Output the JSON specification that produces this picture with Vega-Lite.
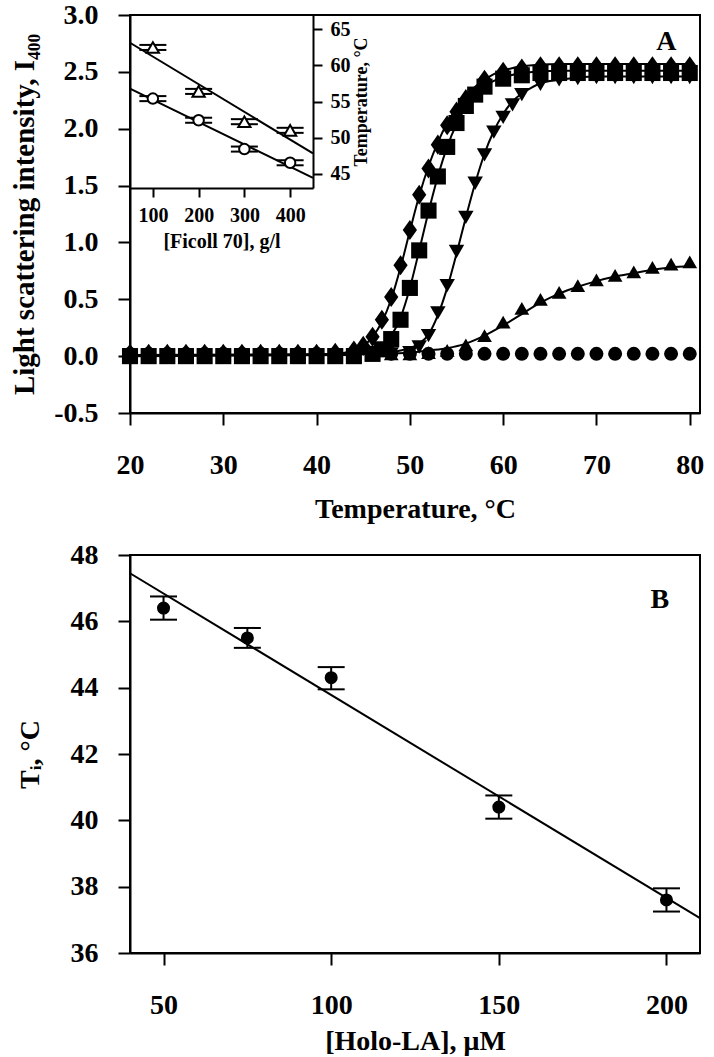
{
  "$schema": "https://vega.github.io/schema/vega-lite/v6.json",
  "padding": {"left": 9, "top": 0, "right": 6, "bottom": 4},
  "bounds": "flush",
  "spacing": 142,
  "config": {
    "font": "Liberation Serif",
    "view": {"stroke": "black", "strokeWidth": 2},
    "axis": {
      "domainColor": "black", "domainWidth": 2, "tickColor": "black", "tickWidth": 2, "tickSize": 12,
      "labelFont": "Liberation Serif", "labelFontWeight": "bold", "labelFontSize": 28, "labelColor": "black",
      "titleFont": "Liberation Serif", "titleFontWeight": "bold", "titleFontSize": 28, "titleColor": "black",
      "grid": false, "labelFlush": false, "labelOverlap": false, "labelPadding": 20
    },
    "axisX": {"labelPadding": 26}
  },
  "datasets": {
    "pts": [
      {"s":"c","t":20,"v":0.02},{"s":"c","t":22,"v":0.02},{"s":"c","t":24,"v":0.02},{"s":"c","t":26,"v":0.02},{"s":"c","t":28,"v":0.02},{"s":"c","t":30,"v":0.02},{"s":"c","t":32,"v":0.02},{"s":"c","t":34,"v":0.02},{"s":"c","t":36,"v":0.02},{"s":"c","t":38,"v":0.02},{"s":"c","t":40,"v":0.02},{"s":"c","t":42,"v":0.02},{"s":"c","t":44,"v":0.02},{"s":"c","t":46,"v":0.02},{"s":"c","t":48,"v":0.02},{"s":"c","t":50,"v":0.02},{"s":"c","t":52,"v":0.02},{"s":"c","t":54,"v":0.02},{"s":"c","t":56,"v":0.02},{"s":"c","t":58,"v":0.02},{"s":"c","t":60,"v":0.02},{"s":"c","t":62,"v":0.02},{"s":"c","t":64,"v":0.02},{"s":"c","t":66,"v":0.02},{"s":"c","t":68,"v":0.02},{"s":"c","t":70,"v":0.02},{"s":"c","t":72,"v":0.02},{"s":"c","t":74,"v":0.02},{"s":"c","t":76,"v":0.02},{"s":"c","t":78,"v":0.02},{"s":"c","t":80,"v":0.02},
      {"s":"u","t":20,"v":0.02},{"s":"u","t":22,"v":0.02},{"s":"u","t":24,"v":0.02},{"s":"u","t":26,"v":0.02},{"s":"u","t":28,"v":0.02},{"s":"u","t":30,"v":0.02},{"s":"u","t":32,"v":0.02},{"s":"u","t":34,"v":0.02},{"s":"u","t":36,"v":0.02},{"s":"u","t":38,"v":0.02},{"s":"u","t":40,"v":0.02},{"s":"u","t":42,"v":0.02},{"s":"u","t":44,"v":0.02},{"s":"u","t":46,"v":0.02},{"s":"u","t":48,"v":0.02},{"s":"u","t":50,"v":0.02},{"s":"u","t":52,"v":0.03},{"s":"u","t":54,"v":0.05},{"s":"u","t":56,"v":0.1},{"s":"u","t":58,"v":0.18},{"s":"u","t":60,"v":0.3},{"s":"u","t":62,"v":0.42},{"s":"u","t":64,"v":0.5},{"s":"u","t":66,"v":0.56},{"s":"u","t":68,"v":0.62},{"s":"u","t":70,"v":0.67},{"s":"u","t":72,"v":0.71},{"s":"u","t":74,"v":0.74},{"s":"u","t":76,"v":0.78},{"s":"u","t":78,"v":0.81},{"s":"u","t":80,"v":0.83},
      {"s":"n","t":20,"v":0.01},{"s":"n","t":22,"v":0.01},{"s":"n","t":24,"v":0.01},{"s":"n","t":26,"v":0.01},{"s":"n","t":28,"v":0.01},{"s":"n","t":30,"v":0.01},{"s":"n","t":32,"v":0.01},{"s":"n","t":34,"v":0.01},{"s":"n","t":36,"v":0.01},{"s":"n","t":38,"v":0.01},{"s":"n","t":40,"v":0.01},{"s":"n","t":42,"v":0.01},{"s":"n","t":44,"v":0.01},{"s":"n","t":46,"v":0.01},{"s":"n","t":48,"v":0.02},{"s":"n","t":50,"v":0.03},{"s":"n","t":51,"v":0.08},{"s":"n","t":52,"v":0.18},{"s":"n","t":53,"v":0.38},{"s":"n","t":54,"v":0.62},{"s":"n","t":55,"v":0.92},{"s":"n","t":56,"v":1.22},{"s":"n","t":57,"v":1.52},{"s":"n","t":58,"v":1.77},{"s":"n","t":59,"v":1.97},{"s":"n","t":60,"v":2.1},{"s":"n","t":61,"v":2.21},{"s":"n","t":62,"v":2.3},{"s":"n","t":64,"v":2.39},{"s":"n","t":66,"v":2.43},{"s":"n","t":68,"v":2.44},{"s":"n","t":70,"v":2.45},{"s":"n","t":72,"v":2.45},{"s":"n","t":74,"v":2.45},{"s":"n","t":76,"v":2.45},{"s":"n","t":78,"v":2.45},{"s":"n","t":80,"v":2.45},
      {"s":"q","t":20,"v":0.0},{"s":"q","t":22,"v":0.0},{"s":"q","t":24,"v":0.0},{"s":"q","t":26,"v":0.0},{"s":"q","t":28,"v":0.0},{"s":"q","t":30,"v":0.0},{"s":"q","t":32,"v":0.0},{"s":"q","t":34,"v":0.0},{"s":"q","t":36,"v":0.0},{"s":"q","t":38,"v":0.0},{"s":"q","t":40,"v":0.0},{"s":"q","t":42,"v":0.0},{"s":"q","t":44,"v":0.0},{"s":"q","t":46,"v":0.02},{"s":"q","t":47,"v":0.06},{"s":"q","t":48,"v":0.15},{"s":"q","t":49,"v":0.32},{"s":"q","t":50,"v":0.6},{"s":"q","t":51,"v":0.93},{"s":"q","t":52,"v":1.28},{"s":"q","t":53,"v":1.58},{"s":"q","t":54,"v":1.84},{"s":"q","t":55,"v":2.05},{"s":"q","t":56,"v":2.2},{"s":"q","t":57,"v":2.3},{"s":"q","t":58,"v":2.37},{"s":"q","t":60,"v":2.44},{"s":"q","t":62,"v":2.47},{"s":"q","t":64,"v":2.49},{"s":"q","t":66,"v":2.49},{"s":"q","t":68,"v":2.49},{"s":"q","t":70,"v":2.49},{"s":"q","t":72,"v":2.49},{"s":"q","t":74,"v":2.49},{"s":"q","t":76,"v":2.49},{"s":"q","t":78,"v":2.49},{"s":"q","t":80,"v":2.49},
      {"s":"d","t":20,"v":0.02},{"s":"d","t":22,"v":0.02},{"s":"d","t":24,"v":0.02},{"s":"d","t":26,"v":0.02},{"s":"d","t":28,"v":0.02},{"s":"d","t":30,"v":0.02},{"s":"d","t":32,"v":0.02},{"s":"d","t":34,"v":0.02},{"s":"d","t":36,"v":0.02},{"s":"d","t":38,"v":0.02},{"s":"d","t":40,"v":0.02},{"s":"d","t":42,"v":0.03},{"s":"d","t":44,"v":0.05},{"s":"d","t":45,"v":0.09},{"s":"d","t":46,"v":0.17},{"s":"d","t":47,"v":0.32},{"s":"d","t":48,"v":0.52},{"s":"d","t":49,"v":0.8},{"s":"d","t":50,"v":1.11},{"s":"d","t":51,"v":1.42},{"s":"d","t":52,"v":1.65},{"s":"d","t":53,"v":1.86},{"s":"d","t":54,"v":2.03},{"s":"d","t":55,"v":2.15},{"s":"d","t":56,"v":2.26},{"s":"d","t":58,"v":2.43},{"s":"d","t":60,"v":2.5},{"s":"d","t":62,"v":2.53},{"s":"d","t":64,"v":2.55},{"s":"d","t":66,"v":2.55},{"s":"d","t":68,"v":2.55},{"s":"d","t":70,"v":2.55},{"s":"d","t":72,"v":2.55},{"s":"d","t":74,"v":2.55},{"s":"d","t":76,"v":2.55},{"s":"d","t":78,"v":2.55},{"s":"d","t":80,"v":2.55}
    ],
    "crv": [
      {"s":"d","t":20,"v":0.01},{"s":"d","t":40,"v":0.01},{"s":"d","t":42,"v":0.02},{"s":"d","t":43,"v":0.03},{"s":"d","t":44,"v":0.05},{"s":"d","t":45,"v":0.09},{"s":"d","t":46,"v":0.17},{"s":"d","t":47,"v":0.3},{"s":"d","t":48,"v":0.5},{"s":"d","t":49,"v":0.78},{"s":"d","t":50,"v":1.1},{"s":"d","t":51,"v":1.41},{"s":"d","t":52,"v":1.67},{"s":"d","t":53,"v":1.88},{"s":"d","t":54,"v":2.05},{"s":"d","t":55,"v":2.18},{"s":"d","t":56,"v":2.29},{"s":"d","t":57,"v":2.37},{"s":"d","t":58,"v":2.43},{"s":"d","t":59,"v":2.48},{"s":"d","t":60,"v":2.51},{"s":"d","t":62,"v":2.55},{"s":"d","t":66,"v":2.57},{"s":"d","t":80,"v":2.57},
      {"s":"q","t":20,"v":0.0},{"s":"q","t":44,"v":0.01},{"s":"q","t":45,"v":0.03},{"s":"q","t":46,"v":0.06},{"s":"q","t":47,"v":0.1},{"s":"q","t":48,"v":0.18},{"s":"q","t":49,"v":0.34},{"s":"q","t":50,"v":0.6},{"s":"q","t":51,"v":0.93},{"s":"q","t":52,"v":1.27},{"s":"q","t":53,"v":1.58},{"s":"q","t":54,"v":1.84},{"s":"q","t":55,"v":2.04},{"s":"q","t":56,"v":2.19},{"s":"q","t":57,"v":2.3},{"s":"q","t":58,"v":2.37},{"s":"q","t":59,"v":2.42},{"s":"q","t":60,"v":2.45},{"s":"q","t":62,"v":2.49},{"s":"q","t":66,"v":2.51},{"s":"q","t":80,"v":2.51},
      {"s":"n","t":20,"v":0.01},{"s":"n","t":46,"v":0.02},{"s":"n","t":48,"v":0.03},{"s":"n","t":49,"v":0.05},{"s":"n","t":50,"v":0.07},{"s":"n","t":51,"v":0.11},{"s":"n","t":52,"v":0.19},{"s":"n","t":53,"v":0.36},{"s":"n","t":54,"v":0.6},{"s":"n","t":55,"v":0.9},{"s":"n","t":56,"v":1.22},{"s":"n","t":57,"v":1.52},{"s":"n","t":58,"v":1.78},{"s":"n","t":59,"v":1.98},{"s":"n","t":60,"v":2.13},{"s":"n","t":61,"v":2.24},{"s":"n","t":62,"v":2.31},{"s":"n","t":63,"v":2.36},{"s":"n","t":64,"v":2.4},{"s":"n","t":66,"v":2.43},{"s":"n","t":70,"v":2.46},{"s":"n","t":80,"v":2.46},
      {"s":"u","t":20,"v":0.01},{"s":"u","t":40,"v":0.01},{"s":"u","t":46,"v":0.02},{"s":"u","t":50,"v":0.03},{"s":"u","t":52,"v":0.05},{"s":"u","t":54,"v":0.07},{"s":"u","t":56,"v":0.11},{"s":"u","t":58,"v":0.18},{"s":"u","t":60,"v":0.27},{"s":"u","t":62,"v":0.37},{"s":"u","t":64,"v":0.47},{"s":"u","t":66,"v":0.55},{"s":"u","t":68,"v":0.61},{"s":"u","t":70,"v":0.66},{"s":"u","t":72,"v":0.7},{"s":"u","t":74,"v":0.73},{"s":"u","t":76,"v":0.76},{"s":"u","t":78,"v":0.78},{"s":"u","t":80,"v":0.79}
    ],
    "ins": [
      {"g":"tri","c":100,"y":62.5,"lo":62.15,"hi":62.85},
      {"g":"tri","c":200,"y":56.4,"lo":56.05,"hi":56.75},
      {"g":"tri","c":300,"y":52.2,"lo":51.85,"hi":52.55},
      {"g":"tri","c":400,"y":51.0,"lo":50.65,"hi":51.35},
      {"g":"cir","c":100,"y":55.4,"lo":55.05,"hi":55.75},
      {"g":"cir","c":200,"y":52.4,"lo":52.05,"hi":52.75},
      {"g":"cir","c":300,"y":48.4,"lo":48.05,"hi":48.75},
      {"g":"cir","c":400,"y":46.5,"lo":46.15,"hi":46.85}
    ],
    "insl": [
      {"g":"tri","c":50,"y":63.15},{"g":"tri","c":450,"y":47.8},
      {"g":"cir","c":50,"y":56.8},{"g":"cir","c":450,"y":44.4}
    ],
    "bp": [
      {"h":50,"t":46.4,"lo":46.05,"hi":46.75},
      {"h":75,"t":45.5,"lo":45.2,"hi":45.8},
      {"h":100,"t":44.3,"lo":43.95,"hi":44.62},
      {"h":150,"t":40.4,"lo":40.05,"hi":40.75},
      {"h":200,"t":37.6,"lo":37.25,"hi":37.95}
    ],
    "bl": [{"h":40,"t":47.45},{"h":210,"t":37.05}]
  },
  "vconcat": [
    {
      "width": 570,
      "height": 398,
      "layer": [
        {
          "encoding": {
            "x": {"field": "t", "type": "quantitative",
              "scale": {"domain": [20, 81.1], "nice": false, "zero": false},
              "axis": {"values": [20, 30, 40, 50, 60, 70, 80], "title": "Temperature, °C", "titlePadding": 16}},
            "y": {"field": "v", "type": "quantitative",
              "scale": {"domain": [-0.5, 3.0], "nice": false, "zero": false},
              "axis": {"values": [-0.5, 0, 0.5, 1, 1.5, 2, 2.5, 3], "labelExpr": "replace(format(datum.value, '.1f'), '\u2212', '-')", "title": "Light scattering intensity, I₄₀₀", "titleFontSize": 29, "titlePadding": 14}}
          },
          "layer": [
            {
              "data": {"name": "crv"},
              "mark": {"type": "line", "color": "black", "strokeWidth": 2, "interpolate": "monotone"},
              "encoding": {"detail": {"field": "s"}}
            },
            {
              "data": {"name": "pts"},
              "mark": {"type": "point", "filled": true, "color": "black", "opacity": 1, "strokeWidth": 0},
              "encoding": {
                "shape": {"field": "s", "type": "nominal", "legend": null,
                  "scale": {"domain": ["c", "u", "n", "q", "d"], "range": ["circle", "triangle-up", "triangle-down", "square", "M0,-1.2L0.85,0L0,1.2L-0.85,0Z"]}},
                "size": {"field": "s", "type": "nominal", "legend": null,
                  "scale": {"domain": ["c", "u", "n", "q", "d"], "range": [196, 280, 280, 170, 420]}}
              }
            },
            {
              "data": {"values": [{"t": 77.5, "v": 2.76, "lab": "A"}]},
              "mark": {"type": "text", "font": "Liberation Serif", "fontWeight": "bold", "fontSize": 28, "color": "black"},
              "encoding": {"text": {"field": "lab"}}
            }
          ]
        },
        {
          "encoding": {
            "x": {"field": "c", "type": "quantitative",
              "scale": {"domain": [50, 450], "range": [0, 183], "nice": false, "zero": false},
              "axis": {"orient": "bottom", "offset": -225, "values": [100, 200, 300, 400], "title": "[Ficoll 70], g/l",
                "labelFontSize": 20, "titleFontSize": 20, "tickSize": 9, "labelPadding": 8, "titlePadding": 6}},
            "y": {"field": "y", "type": "quantitative",
              "scale": {"domain": [43, 67], "range": [173, 0], "nice": false, "zero": false},
              "axis": {"orient": "right", "offset": -387, "values": [45, 50, 55, 60, 65], "title": "Temperature, °C",
                "labelFontSize": 20, "titleFontSize": 18, "tickSize": 9, "labelPadding": 8, "titlePadding": 2, "titleAngle": 270, "titleBaseline": "top"}}
          },
          "layer": [
            {
              "data": {"name": "insl"},
              "mark": {"type": "line", "color": "black", "strokeWidth": 2},
              "encoding": {"detail": {"field": "g"}}
            },
            {
              "data": {"name": "ins"},
              "mark": {"type": "tick", "orient": "horizontal", "size": 27, "thickness": 2, "color": "black", "opacity": 1},
              "encoding": {"y": {"field": "lo", "type": "quantitative"}}
            },
            {
              "data": {"name": "ins"},
              "mark": {"type": "tick", "orient": "horizontal", "size": 27, "thickness": 2, "color": "black", "opacity": 1},
              "encoding": {"y": {"field": "hi", "type": "quantitative"}}
            },
            {
              "data": {"name": "ins"},
              "mark": {"type": "point", "filled": false, "fill": "white", "stroke": "black", "strokeWidth": 2, "opacity": 1},
              "encoding": {
                "shape": {"field": "g", "type": "nominal", "legend": null,
                  "scale": {"domain": ["tri", "cir"], "range": ["triangle-up", "circle"]}},
                "size": {"field": "g", "type": "nominal", "legend": null,
                  "scale": {"domain": ["tri", "cir"], "range": [150, 110]}}
              }
            }
          ]
        }
      ],
      "resolve": {"scale": {"x": "independent", "y": "independent", "shape": "independent", "size": "independent"}, "axis": {"x": "independent", "y": "independent"}}
    },
    {
      "width": 570,
      "height": 398,
      "encoding": {
        "x": {"field": "h", "type": "quantitative",
          "scale": {"domain": [40, 210], "nice": false, "zero": false},
          "axis": {"values": [50, 100, 150, 200], "title": "[Holo-LA], μM", "titlePadding": 8}}
      },
      "layer": [
        {
          "data": {"name": "bl"},
          "mark": {"type": "line", "color": "black", "strokeWidth": 2},
          "encoding": {
            "y": {"field": "t", "type": "quantitative",
              "scale": {"domain": [36, 48], "nice": false, "zero": false},
              "axis": {"values": [36, 38, 40, 42, 44, 46, 48], "title": "Tᵢ, °C", "titlePadding": 26}}
          }
        },
        {
          "data": {"name": "bp"},
          "mark": {"type": "rule", "color": "black", "strokeWidth": 2},
          "encoding": {"y": {"field": "lo", "type": "quantitative"}, "y2": {"field": "hi"}}
        },
        {
          "data": {"name": "bp"},
          "mark": {"type": "tick", "orient": "horizontal", "size": 27, "thickness": 2, "color": "black", "opacity": 1},
          "encoding": {"y": {"field": "lo", "type": "quantitative"}}
        },
        {
          "data": {"name": "bp"},
          "mark": {"type": "tick", "orient": "horizontal", "size": 27, "thickness": 2, "color": "black", "opacity": 1},
          "encoding": {"y": {"field": "hi", "type": "quantitative"}}
        },
        {
          "data": {"name": "bp"},
          "mark": {"type": "point", "filled": true, "color": "black", "opacity": 1, "size": 170, "shape": "circle", "strokeWidth": 0},
          "encoding": {"y": {"field": "t", "type": "quantitative"}}
        },
        {
          "data": {"values": [{"h": 198, "t": 46.65, "lab": "B"}]},
          "mark": {"type": "text", "font": "Liberation Serif", "fontWeight": "bold", "fontSize": 28, "color": "black"},
          "encoding": {"y": {"field": "t", "type": "quantitative"}, "text": {"field": "lab"}}
        }
      ]
    }
  ]
}
